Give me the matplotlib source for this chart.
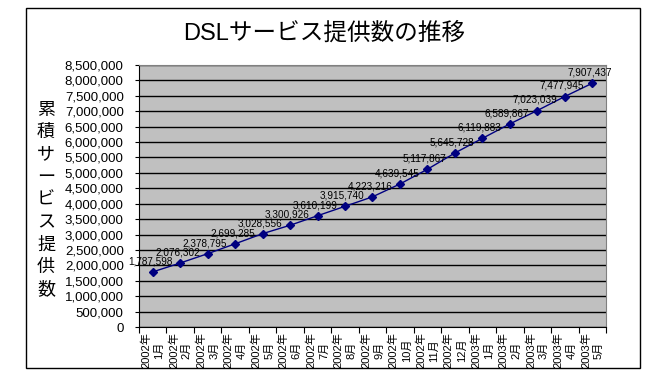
import matplotlib.pyplot as plt
from matplotlib.patches import Rectangle
from matplotlib.ticker import FuncFormatter, MultipleLocator

plt.rcParams['font.family'] = ['Liberation Sans', 'Noto Sans CJK JP', 'DejaVu Sans']

# data
years = ['2002年'] * 12 + ['2003年'] * 5
months = ['1月', '2月', '3月', '4月', '5月', '6月', '7月', '8月', '9月', '10月',
          '11月', '12月', '1月', '2月', '3月', '4月', '5月']
subscribers = [1787598, 2076302, 2378795, 2699285, 3028556, 3300926, 3610199,
               3915740, 4223216, 4639545, 5117867, 5645728, 6119883, 6589867,
               7023039, 7477945, 7907437]
title = 'DSLサービス提供数の推移'
ylabel = '累積サービス提供数'

fig = plt.figure(figsize=(6.72, 3.76), dpi=100)

# outer chart frame
fig.patches.append(Rectangle((26 / 672, 1 - 368 / 376), 614 / 672, 360 / 376,
                             transform=fig.transFigure, fill=False,
                             edgecolor='black', linewidth=1))

ax = fig.add_axes([139 / 672, 1 - 327 / 376, 467 / 672, 262 / 376])
ax.set_facecolor('#C0C0C0')

x = list(range(len(subscribers)))
ax.plot(x, subscribers, color='#000080', linewidth=1, marker='D',
        markersize=4, markerfacecolor='#000080', markeredgecolor='#000080',
        zorder=3)
for xi, v in zip(x, subscribers):
    ax.annotate(f'{v:,}', (xi, v), xytext=(-2, 4), textcoords='offset points',
                ha='center', va='bottom', fontsize=7.2, zorder=4)

ax.set_xlim(-0.5, len(subscribers) - 0.5)
ax.set_ylim(0, 8500000)
ax.yaxis.set_major_locator(MultipleLocator(500000))
ax.yaxis.set_major_formatter(FuncFormatter(lambda v, p: f'{int(v):,}'))
ax.grid(axis='y', color='black', linewidth=1)
ax.set_axisbelow(True)

# category ticks between points, labels at the points
ax.set_xticks([i - 0.5 for i in range(len(subscribers) + 1)])
ax.set_xticklabels([])
ax.set_xticks(x, minor=True)
ax.set_xticklabels([f'{y}\n{m}' for y, m in zip(years, months)], minor=True,
                   rotation=90, fontsize=8, linespacing=1.35,
                   multialignment='center', va='top', ha='center')
ax.tick_params(axis='x', which='minor', length=0, pad=4)
ax.tick_params(axis='x', which='major', length=4, direction='out')
ax.tick_params(axis='y', labelsize=9.5, length=3, pad=8)

for side in ['top', 'right']:
    ax.spines[side].set_color('#808080')
for side in ['left', 'bottom']:
    ax.spines[side].set_color('black')

fig.text(0.482, 0.91, title, fontsize=17, ha='center', va='center')
fig.text(46 / 672, 1 - 200 / 376, '\n'.join(ylabel), fontsize=13,
         ha='center', va='center', linespacing=1.42)

fig.savefig('out.png', dpi=100)
